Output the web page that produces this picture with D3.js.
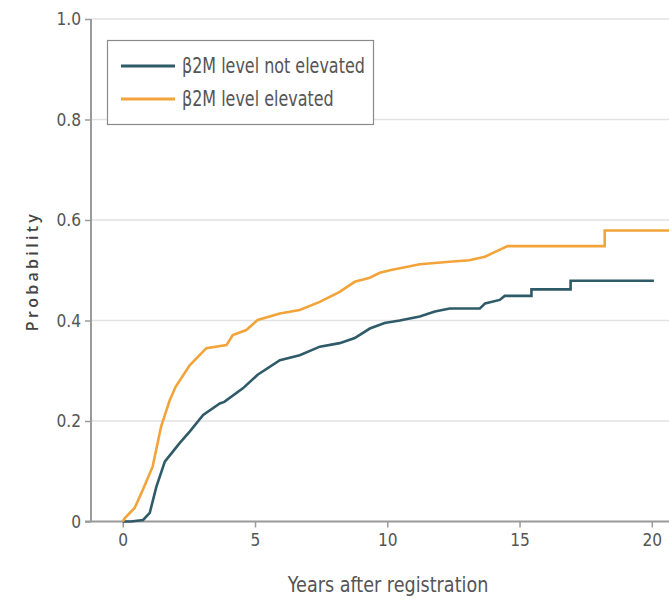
<!DOCTYPE html>
<html>
<head>
<meta charset="utf-8">
<script src="https://cdn.jsdelivr.net/npm/d3@7/dist/d3.min.js"></script>
<style>
  html, body { margin: 0; padding: 0; background: #fff; }
  svg { display: block; }
  .cond { font-family: 'DejaVu Sans', sans-serif; }
</style>
</head>
<body>
<svg id="chart" width="669" height="605"></svg>
<script>
// ---- data ----
const seriesNames = ["β2M level not elevated", "β2M level elevated"];
const xTicks = [0, 5, 10, 15, 20];
const yTicks = [0, 0.2, 0.4, 0.6, 0.8, 1.0];
const yTickLabels = ["0", "0.2", "0.4", "0.6", "0.8", "1.0"];

const notElevatedT = [0, 0.3, 0.77, 1.02, 1.27, 1.59, 2.15, 2.53, 3.04, 3.67, 3.84, 4.54, 5.1, 5.94, 6.69, 7.45, 8.2, 8.77, 9.34, 9.9, 10.47, 11.23, 11.8, 12.36, 13.5, 13.7, 14.25, 14.44, 15.45, 15.45, 16.93, 16.93, 20.08];
const notElevatedP = [0, 0, 0.003, 0.017, 0.069, 0.119, 0.156, 0.179, 0.212, 0.235, 0.238, 0.265, 0.292, 0.321, 0.331, 0.348, 0.355, 0.365, 0.384, 0.395, 0.40, 0.408, 0.418, 0.424, 0.424, 0.434, 0.441, 0.449, 0.449, 0.462, 0.462, 0.479, 0.479];

const elevatedT = [0, 0.08, 0.45, 0.76, 1.13, 1.45, 1.78, 2.0, 2.53, 3.16, 3.92, 4.16, 4.67, 5.1, 5.94, 6.69, 7.45, 8.2, 8.77, 9.34, 9.72, 10.1, 11.23, 12.36, 13.1, 13.69, 14.06, 14.55, 18.22, 18.22, 21.0];
const elevatedP = [0, 0.007, 0.027, 0.063, 0.109, 0.189, 0.242, 0.268, 0.311, 0.345, 0.351, 0.371, 0.381, 0.401, 0.414, 0.421, 0.437, 0.457, 0.477, 0.485, 0.495, 0.50, 0.512, 0.517, 0.52, 0.527, 0.536, 0.548, 0.548, 0.579, 0.579];

// ---- layout ----
const svg = d3.select("#chart");
const mLeft = 91, mRight = 669, mTop = 19, mBottom = 521.5;
const colors = ["#2f5b69", "#f2a33a"];
const axisColor = "#9a9a9a";
const textColor = "#555";

const x = d3.scaleLinear().domain([-1.2, 20.65]).range([mLeft, mRight]);
const y = d3.scaleLinear().domain([0, 1]).range([mBottom, mTop]);

// clip
svg.append("defs").append("clipPath").attr("id", "plotclip")
  .append("rect").attr("x", mLeft).attr("y", 0).attr("width", mRight - mLeft).attr("height", mBottom + 2);

// gridlines
svg.append("g").selectAll("line").data(yTicks.filter(d => d > 0)).join("line")
  .attr("x1", mLeft).attr("x2", mRight)
  .attr("y1", d => y(d)).attr("y2", d => y(d))
  .attr("stroke", "#e2e2e2").attr("stroke-width", 1.5);

// y axis
const yAxis = d3.axisLeft(y).tickValues(yTicks).tickSize(6).tickPadding(4)
  .tickFormat((d, i) => yTickLabels[i]);
const gy = svg.append("g").attr("transform", `translate(${mLeft},0)`).call(yAxis);
gy.attr("font-family", null).attr("font-size", null);
gy.select(".domain").remove();
gy.selectAll(".tick line").attr("stroke", axisColor).attr("stroke-width", 1.5);
gy.selectAll(".tick text").attr("fill", textColor).attr("class", "cond").style("font-size", "18px")
  .attr("transform", "scale(0.86,1)").attr("x", -10 / 0.86);
svg.append("line").attr("x1", mLeft).attr("x2", mLeft).attr("y1", mTop).attr("y2", mBottom)
  .attr("stroke", axisColor).attr("stroke-width", 2);

// x axis
const xAxis = d3.axisBottom(x).tickValues(xTicks).tickSize(6).tickPadding(6).tickFormat(d3.format("d"));
const gx = svg.append("g").attr("transform", `translate(0,${mBottom})`).call(xAxis);
gx.attr("font-family", null).attr("font-size", null);
gx.select(".domain").remove();
gx.selectAll(".tick line").attr("stroke", axisColor).attr("stroke-width", 1.5);
gx.selectAll(".tick text").attr("fill", textColor).attr("class", "cond").style("font-size", "18px")
  .attr("transform", "scale(0.86,1)");
svg.append("line").attr("x1", mLeft - 6).attr("x2", mRight).attr("y1", mBottom).attr("y2", mBottom)
  .attr("stroke", axisColor).attr("stroke-width", 2);

// lines
const line = d3.line().x(d => x(d[0])).y(d => y(d[1])).curve(d3.curveLinear);
const series = [d3.zip(notElevatedT, notElevatedP), d3.zip(elevatedT, elevatedP)];
svg.append("g").attr("clip-path", "url(#plotclip)").selectAll("path").data(series).join("path")
  .attr("d", line).attr("fill", "none")
  .attr("stroke", (d, i) => colors[i]).attr("stroke-width", 2.6)
  .attr("stroke-linejoin", "miter");

// axis titles
svg.append("text").attr("class", "cond").attr("text-anchor", "middle")
  .attr("transform", "translate(388,592) scale(0.8,1)")
  .attr("fill", textColor).style("font-size", "22px")
  .text("Years after registration");
svg.append("text").attr("transform", `translate(38,271) rotate(-90)`)
  .attr("text-anchor", "middle").attr("fill", "#444")
  .style("font-family", "'Open Sans', sans-serif").style("font-size", "16px").style("font-weight", 600)
  .style("letter-spacing", "3.3px")
  .text("Probability");

// legend
const lg = svg.append("g");
lg.append("rect").attr("x", 107.5).attr("y", 40.5).attr("width", 266).attr("height", 84)
  .attr("fill", "#fff").attr("stroke", "#8a8a8a").attr("stroke-width", 1.2);
seriesNames.forEach((name, i) => {
  const yy = 66 + i * 33;
  lg.append("line").attr("x1", 121).attr("x2", 175).attr("y1", yy).attr("y2", yy)
    .attr("stroke", colors[i]).attr("stroke-width", 3);
  lg.append("text").attr("class", "cond").attr("transform", `translate(182,${yy + 7}) scale(0.76,1)`)
    .attr("fill", textColor).style("font-size", "21px").text(name);
});
</script>
</body>
</html>
